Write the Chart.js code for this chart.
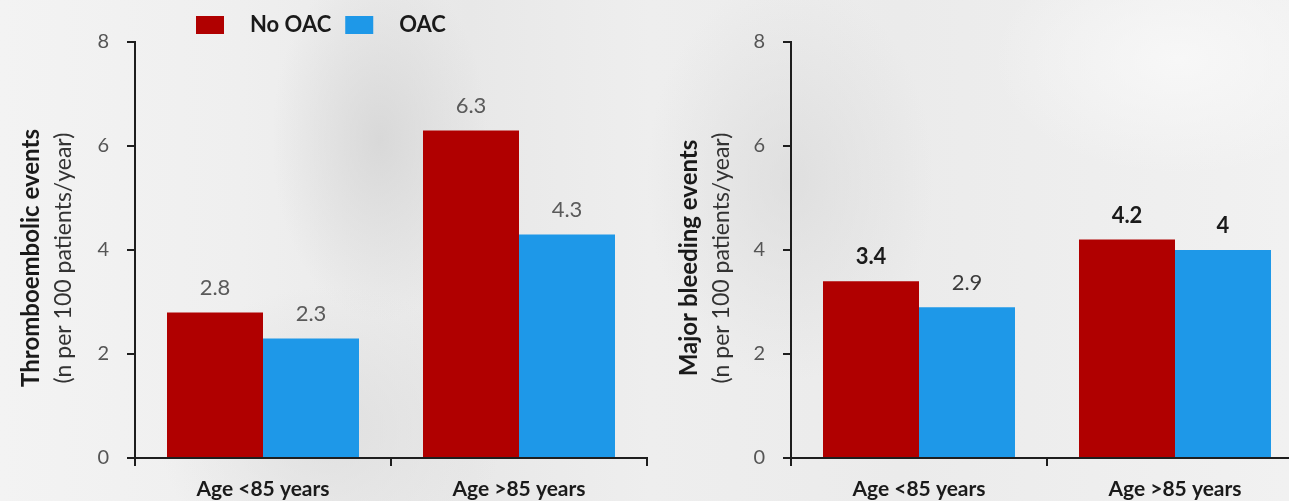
<!DOCTYPE html>
<html>
<head>
<meta charset="utf-8">
<title>Events by age group and anticoagulation</title>
<script src="https://cdn.jsdelivr.net/npm/chart.js@4.4.1/dist/chart.umd.min.js"></script>
<style>
  html, body { margin: 0; padding: 0; width: 1289px; height: 501px; overflow: hidden; background: #ececec; }
  .bg {
    position: absolute; left: 0; top: 0; width: 1289px; height: 501px;
    background:
      radial-gradient(ellipse 150px 250px at 380px 140px, rgba(212,212,212,0.8), rgba(212,212,212,0) 72%),
      radial-gradient(ellipse 240px 200px at 330px 430px, rgba(220,220,220,0.75), rgba(220,220,220,0) 72%),
      radial-gradient(ellipse 200px 280px at 790px 180px, rgba(216,216,216,0.65), rgba(216,216,216,0) 72%),
      radial-gradient(ellipse 260px 160px at 1180px 60px, rgba(248,248,248,0.9), rgba(248,248,248,0) 72%),
      linear-gradient(90deg, #f3f3f3 0px, #efefef 240px, #e8e8e8 470px, #eeeeee 650px, #ebebeb 900px, #f1f1f1 1289px);
  }
  .panel { position: absolute; top: 0; width: 656px; height: 501px; }
</style>
</head>
<body>
<div class="bg"></div>
<div class="panel" style="left:0px"><canvas id="thrombo"></canvas></div>
<div class="panel" style="left:656px"><canvas id="bleeding"></canvas></div>

<script>
// ---- data ----
const categories = ['Age <85 years', 'Age >85 years'];
const seriesNames = ['No OAC', 'OAC'];
const yTicks = [0, 2, 4, 6, 8];

const thromboNoOAC = [2.8, 6.3];
const thromboOAC   = [2.3, 4.3];

const bleedNoOAC = [3.4, 4.2];
const bleedOAC   = [2.9, 4.0];

// ---- styling ----
const RED = '#b00000';
const BLUE = '#1e98e8';
const AXIS = '#1e1e1e';
Chart.defaults.font.family = 'Lato, "Open Sans", "DejaVu Sans", sans-serif';
Chart.defaults.animation = false;

// rotated two-line y title: bold headline + normal unit line
const yTitlePlugin = {
  id: 'yTitle',
  afterDraw(chart, args, opts) {
    const ctx = chart.ctx;
    const cy = (chart.chartArea.top + chart.chartArea.bottom) / 2 + (opts.shift || 0);
    ctx.save();
    ctx.textAlign = 'center';
    ctx.textBaseline = 'middle';
    opts.lines.forEach(line => {
      ctx.save();
      ctx.translate(line.x, cy);
      ctx.rotate(-Math.PI / 2);
      ctx.font = `${line.weight} ${line.size}px ${Chart.defaults.font.family}`;
      ctx.fillStyle = line.color;
      ctx.fillText(line.text, 0, 0);
      ctx.restore();
    });
    ctx.restore();
  }
};

// value printed above each bar, taken from the dataset value
const valueLabelPlugin = {
  id: 'valueLabels',
  afterDatasetsDraw(chart, args, opts) {
    const ctx = chart.ctx;
    ctx.save();
    ctx.textAlign = 'center';
    ctx.textBaseline = 'middle';
    chart.data.datasets.forEach((ds, di) => {
      const meta = chart.getDatasetMeta(di);
      meta.data.forEach((bar, i) => {
        const st = opts.styles[di][i];
        ctx.font = `${st.weight} ${opts.size}px ${Chart.defaults.font.family}`;
        ctx.fillStyle = st.color;
        ctx.fillText(String(ds.data[i]), bar.x, bar.y - opts.offset);
      });
    });
    ctx.restore();
  }
};

// swatch legend drawn along the top of the first panel
const swatchLegendPlugin = {
  id: 'swatchLegend',
  afterDraw(chart, args, opts) {
    if (!opts.show) return;
    const ctx = chart.ctx;
    ctx.save();
    ctx.textBaseline = 'middle';
    ctx.textAlign = 'left';
    ctx.font = `bold ${opts.size}px ${Chart.defaults.font.family}`;
    let x = opts.x;
    chart.data.datasets.forEach(ds => {
      ctx.fillStyle = ds.backgroundColor;
      ctx.fillRect(x, opts.y - opts.boxH / 2, opts.boxW, opts.boxH);
      x += opts.boxW + opts.gap;
      ctx.fillStyle = '#1a1a1a';
      ctx.fillText(ds.label, x, opts.y);
      x += ctx.measureText(ds.label).width + opts.itemGap;
    });
    ctx.restore();
  }
};

function buildChart(id, noOac, oac, titleLines, labelStyles, showLegend) {
  return new Chart(document.getElementById(id), {
    type: 'bar',
    data: {
      labels: categories,
      datasets: [
        { label: seriesNames[0], data: noOac, backgroundColor: RED, borderWidth: 0 },
        { label: seriesNames[1], data: oac, backgroundColor: BLUE, borderWidth: 0 }
      ]
    },
    options: {
      responsive: true,
      maintainAspectRatio: false,
      devicePixelRatio: 1,
      layout: { padding: { top: 42, right: 9, bottom: 0, left: 0 } },
      datasets: { bar: { categoryPercentage: 0.75, barPercentage: 1.0 } },
      plugins: {
        legend: { display: false },
        tooltip: { enabled: false },
        yTitle: { lines: titleLines, shift: 8 },
        valueLabels: { styles: labelStyles, size: 22, offset: 24 },
        swatchLegend: { show: showLegend, x: 196, y: 25, boxW: 28, boxH: 18, gap: 26, itemGap: 14, size: 22 }
      },
      scales: {
        x: {
          grid: { display: true, drawOnChartArea: false, drawTicks: true, tickLength: 8, color: AXIS, lineWidth: 2, offset: true },
          border: { display: true, color: AXIS, width: 2 },
          ticks: { color: '#1a1a1a', font: { size: 21, weight: 'bold' }, padding: 11 },
          afterFit(scale) { scale.height = 43; }
        },
        y: {
          min: yTicks[0],
          max: yTicks[yTicks.length - 1],
          afterBuildTicks(scale) { scale.ticks = yTicks.map(v => ({ value: v })); },
          grid: { display: true, drawOnChartArea: false, drawTicks: true, tickLength: 8, color: AXIS, lineWidth: 2 },
          border: { display: true, color: AXIS, width: 2 },
          ticks: { color: '#555555', font: { size: 20 }, padding: 18 },
          afterFit(scale) { scale.width = 135; }
        }
      }
    },
    plugins: [yTitlePlugin, valueLabelPlugin, swatchLegendPlugin]
  });
}

const grey = { weight: 'normal', color: '#5a5a5a' };
const dark = { weight: 'bold', color: '#1a1a1a' };

buildChart('thrombo', thromboNoOAC, thromboOAC, [
  { text: 'Thromboembolic events', x: 31, size: 24, weight: 'bold', color: '#1a1a1a' },
  { text: '(n per 100 patients/year)', x: 64, size: 23, weight: 'normal', color: '#333333' }
], [[grey, grey], [grey, grey]], true);

buildChart('bleeding', bleedNoOAC, bleedOAC, [
  { text: 'Major bleeding events', x: 33, size: 24, weight: 'bold', color: '#1a1a1a' },
  { text: '(n per 100 patients/year)', x: 66, size: 23, weight: 'normal', color: '#333333' }
], [[dark, dark], [{ weight: 'normal', color: '#3a3a3a' }, dark]], false);
</script>
</body>
</html>
